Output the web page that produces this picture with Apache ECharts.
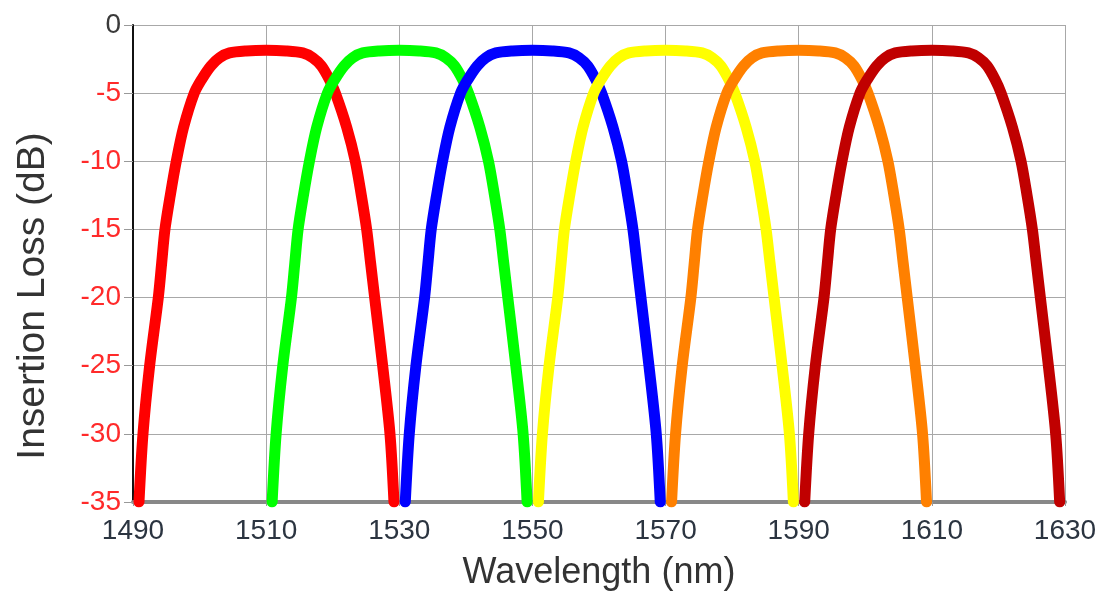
<!DOCTYPE html>
<html>
<head>
<meta charset="utf-8">
<script src="https://cdn.jsdelivr.net/npm/echarts@6/dist/echarts.min.js"></script>
<style>
html,body{margin:0;padding:0;background:#fff;}
#chart{width:1102px;height:592px;}
</style>
</head>
<body>
<div id="chart"></div>
<script>
// Insertion loss levels (dB) sampled along each passband curve
const lossDb = [-35, -30, -25, -20, -17.5, -15, -12.5, -10, -7.5, -5, -4, -3, -2.4, -2.05, -1.9, -1.85, -1.9, -2.05, -2.4, -3, -4, -5, -7.5, -10, -12.5, -15, -17.5, -20, -25, -30, -35];

// Wavelengths (nm) read for each channel at those levels
const wlCh1510 = [1490.9, 1491.5, 1492.5, 1493.8, 1494.3, 1494.8, 1495.6, 1496.5, 1497.6, 1499.2, 1500.3, 1501.7, 1503, 1504.5, 1507, 1510, 1513, 1515.5, 1517, 1518.3, 1519.5, 1520.4, 1522.1, 1523.4, 1524.3, 1525.1, 1525.7, 1526.3, 1527.5, 1528.6, 1529.2];
const wlCh1530 = [1510.9, 1511.5, 1512.5, 1513.8, 1514.3, 1514.8, 1515.6, 1516.5, 1517.6, 1519.2, 1520.3, 1521.7, 1523, 1524.5, 1527, 1530, 1533, 1535.5, 1537, 1538.3, 1539.5, 1540.4, 1542.1, 1543.4, 1544.3, 1545.1, 1545.7, 1546.3, 1547.5, 1548.6, 1549.2];
const wlCh1550 = [1530.9, 1531.5, 1532.5, 1533.8, 1534.3, 1534.8, 1535.6, 1536.5, 1537.6, 1539.2, 1540.3, 1541.7, 1543, 1544.5, 1547, 1550, 1553, 1555.5, 1557, 1558.3, 1559.5, 1560.4, 1562.1, 1563.4, 1564.3, 1565.1, 1565.7, 1566.3, 1567.5, 1568.6, 1569.2];
const wlCh1570 = [1550.9, 1551.5, 1552.5, 1553.8, 1554.3, 1554.8, 1555.6, 1556.5, 1557.6, 1559.2, 1560.3, 1561.7, 1563, 1564.5, 1567, 1570, 1573, 1575.5, 1577, 1578.3, 1579.5, 1580.4, 1582.1, 1583.4, 1584.3, 1585.1, 1585.7, 1586.3, 1587.5, 1588.6, 1589.2];
const wlCh1590 = [1570.9, 1571.5, 1572.5, 1573.8, 1574.3, 1574.8, 1575.6, 1576.5, 1577.6, 1579.2, 1580.3, 1581.7, 1583, 1584.5, 1587, 1590, 1593, 1595.5, 1597, 1598.3, 1599.5, 1600.4, 1602.1, 1603.4, 1604.3, 1605.1, 1605.7, 1606.3, 1607.5, 1608.6, 1609.2];
const wlCh1610 = [1590.9, 1591.5, 1592.5, 1593.8, 1594.3, 1594.8, 1595.6, 1596.5, 1597.6, 1599.2, 1600.3, 1601.7, 1603, 1604.5, 1607, 1610, 1613, 1615.5, 1617, 1618.3, 1619.5, 1620.4, 1622.1, 1623.4, 1624.3, 1625.1, 1625.7, 1626.3, 1627.5, 1628.6, 1629.2];

const channels = [wlCh1510, wlCh1530, wlCh1550, wlCh1570, wlCh1590, wlCh1610];
const colors = ['#ff0000', '#00ff00', '#0000ff', '#ffff00', '#ff8000', '#c00000'];

const xTitle = 'Wavelength (nm)';
const yTitle = 'Insertion Loss (dB)';

const chart = echarts.init(document.getElementById('chart'), null, {renderer: 'canvas'});

const series = channels.map((wl, k) => ({
  type: 'line',
  data: wl.map((w, i) => [w, lossDb[i]]),
  showSymbol: false,
  smooth: 0.3,
  clip: true,
  lineStyle: {color: colors[k], width: 11, cap: 'round', join: 'round'},
  animation: false
}));

const fontFam = '"Liberation Sans", Arial, sans-serif';

chart.setOption({
  animation: false,
  backgroundColor: '#ffffff',
  grid: {left: 133, right: 37, top: 25, bottom: 90, containLabel: false, outerBoundsMode: 'none'},
  xAxis: {
    type: 'value',
    min: 1490, max: 1630, interval: 20,
    name: xTitle,
    nameLocation: 'middle',
    nameGap: 53,
    nameTextStyle: {fontFamily: fontFam, fontSize: 36, color: '#333333'},
    axisLine: {show: true, onZero: false, lineStyle: {color: '#888888', width: 4}},
    axisTick: {show: true, length: 4, lineStyle: {color: '#999999'}},
    axisLabel: {fontFamily: fontFam, fontSize: 28, color: '#2b3440', margin: 15,
      formatter: function (v) { return String(v); }},
    splitLine: {show: true, lineStyle: {color: '#a8a8a8', width: 1}}
  },
  yAxis: {
    type: 'value',
    min: -35, max: 0, interval: 5,
    axisLine: {show: true, onZero: false, lineStyle: {color: '#111111', width: 2}},
    axisTick: {show: true, length: 9, lineStyle: {color: '#999999'}},
    axisLabel: {
      fontFamily: fontFam, fontSize: 28, margin: 12,
      formatter: function (v) { return String(v); },
      color: function (v) { return Number(v) === 0 ? '#3a3a3a' : '#ff2a2a'; }
    },
    splitLine: {show: true, lineStyle: {color: '#a8a8a8', width: 1}}
  },
  graphic: [{
    type: 'text',
    x: 33, y: 296,
    rotation: Math.PI / 2,
    style: {
      text: yTitle,
      font: '39px "Liberation Sans", Arial, sans-serif',
      fill: '#333333',
      textAlign: 'center',
      textVerticalAlign: 'middle'
    }
  }],
  series: series
});
</script>
</body>
</html>
